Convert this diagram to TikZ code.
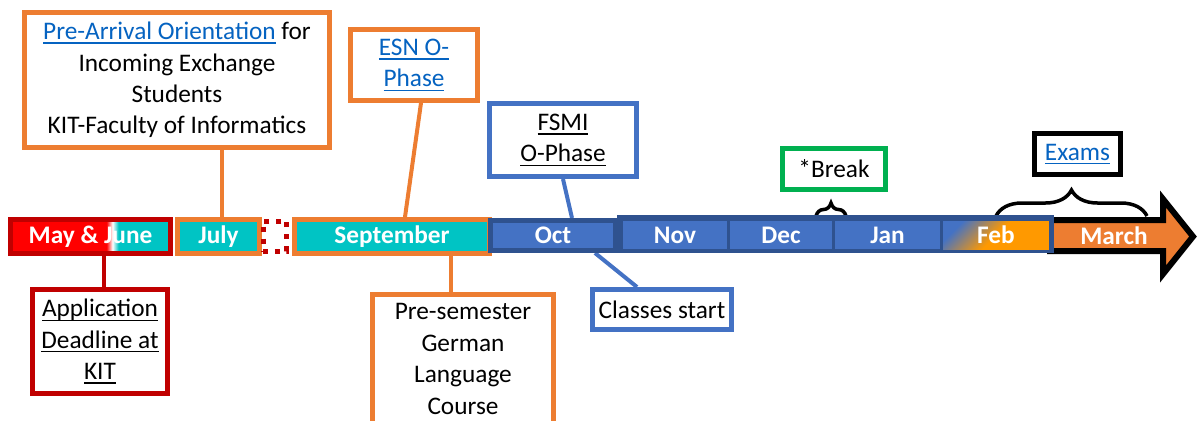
\documentclass[tikz,border=0pt]{standalone}
\usepackage{fontspec}
\setmainfont{Carlito}
\usetikzlibrary{decorations.pathreplacing,backgrounds}

\definecolor{kitred}{HTML}{C00000}
\definecolor{brightred}{HTML}{FF0000}
\definecolor{monthcyan}{HTML}{00C4C4}
\definecolor{orangeline}{HTML}{ED7D31}
\definecolor{darkblue}{HTML}{2F528F}
\definecolor{cellblue}{HTML}{4472C4}
\definecolor{feborange}{HTML}{FF9900}
\definecolor{breakgreen}{HTML}{00B050}
\definecolor{linkblue}{HTML}{0563C1}

\newcommand{\labelsize}{\fontsize{14.4pt}{17.9pt}\selectfont}
\newcommand{\ulined}[1]{\setbox0\hbox{#1}\rlap{\rule[-2.4pt]{\wd0}{0.8pt}}\box0}
\newcommand{\linktext}[1]{\textcolor{linkblue}{\ulined{#1}}}

\begin{document}
\begin{tikzpicture}[x=0.02cm, y=-0.02cm,
	every node/.style={font=\labelsize},
	month/.style={line width=0.1cm, minimum height=0.68cm, inner sep=0pt, text=white, font=\labelsize\bfseries},
	cell/.style={fill=cellblue, minimum height=0.56cm, inner sep=0pt, text=white, font=\labelsize\bfseries},
	callout/.style={draw, fill=white, line width=0.1cm, align=center, inner sep=0pt},
	link/.style={line width=0.08cm},
	curly/.style={decorate, decoration={brace, amplitude=#1}, line width=0.07cm}]
	\useasboundingbox (0,0) rectangle (1198,420);

	\filldraw[fill=orangeline, draw=black, line width=0.12cm, line join=miter] (1050,220) -- (1163,220) -- (1163,199) -- (1193,236.5) -- (1163,274) -- (1163,251) -- (1050,251) -- cycle;
	\node[text=white, font=\labelsize\bfseries] (march) at (1114,236) {March};

	\node[month, draw=kitred, fill=monthcyan, minimum width=3.2cm,
		path picture={
			\fill[brightred] (path picture bounding box.south west) rectangle ([xshift=1.93cm]path picture bounding box.north west);
			\shade[left color=brightred, right color=monthcyan, middle color=white] ([xshift=1.92cm]path picture bounding box.south west) rectangle ([xshift=2.16cm]path picture bounding box.north west);
		}] (mayjune) at (90.5,236.5) {May \& June};
	\node[month, draw=orangeline, fill=monthcyan, minimum width=1.64cm] (july) at (218.5,236.5) {July};
	\node[draw=kitred, line width=0.1cm, dash pattern=on 2.8pt off 4pt, minimum width=0.48cm, minimum height=0.6cm, inner sep=0pt] (gap) at (275,236) {};
	\node[month, draw=orangeline, fill=monthcyan, minimum width=3.9cm] (sept) at (392,236.5) {September};
	\node[month, draw=darkblue, fill=cellblue, minimum width=2.5cm, minimum height=0.6cm] (oct) at (553,235.5) {Oct};

	\node[fill=darkblue, minimum width=8.74cm, minimum height=0.76cm, inner sep=0pt] (winter) at (835.5,234) {};
	\node[cell, minimum width=2.08cm] (nov) at (675,235) {Nov};
	\node[cell, minimum width=2.04cm] (dec) at (781,235) {Dec};
	\node[cell, minimum width=2.1cm] (jan) at (887.5,235) {Jan};
	\node[cell, minimum width=2.12cm, top color=cellblue, bottom color=feborange, middle color=feborange, shading angle=45] (feb) at (996,235) {Feb};

	\node[callout, draw=orangeline, minimum width=6.1cm, minimum height=2.7cm] (prearr) at (177,80)
		{\linktext{Pre-Arrival Orientation} for\\Incoming Exchange\\Students\\KIT-Faculty of Informatics};
	\node[callout, draw=orangeline, minimum width=2.54cm, minimum height=1.42cm] (esn) at (414,65) {\linktext{ESN O-}\\\linktext{Phase}};
	\node[callout, draw=cellblue, minimum width=2.94cm, minimum height=1.46cm] (fsmi) at (563,140) {\ulined{FSMI}\\\ulined{O-Phase}};
	\node[callout, draw=breakgreen, minimum width=2.06cm, minimum height=0.82cm] (brk) at (834,169) {*Break};
	\node[callout, draw=black, line width=0.11cm, minimum width=1.72cm, minimum height=0.82cm] (exams) at (1077.5,154) {\linktext{Exams}};
	\node[callout, draw=kitred, line width=0.11cm, minimum width=2.7cm, minimum height=2.08cm] (deadline) at (100,341.5)
		{\ulined{Application}\\\ulined{Deadline at}\\\ulined{KIT}};
	\node[callout, draw=orangeline, minimum width=3.62cm, inner ysep=0.19cm, anchor=north] (presem) at (463,291.5)
		{Pre-semester\\German\\Language\\Course};
	\node[callout, draw=cellblue, minimum width=2.78cm, minimum height=0.8cm] (classes) at (662,309.5) {Classes start};

	\coordinate (brkleft) at (816,216);
	\coordinate (brkright) at (846,216);
	\coordinate (examsleft) at (996,216);
	\coordinate (examsright) at (1147,216);

	\begin{scope}[on background layer]
		\draw[curly=0.26cm] (brkleft) to (brkright);
		\draw[curly=0.52cm] (examsleft) to (examsright);
		\draw[link, orangeline] ([xshift=0.07cm]july.north |- prearr.south) to ([xshift=0.07cm]july.north);
		\draw[link, orangeline] ([xshift=0.14cm]esn.south) to ([xshift=0.26cm]sept.north);
		\draw[link, cellblue] (fsmi.south) to ([xshift=0.38cm]oct.north);
		\draw[link, cellblue] ([xshift=0.84cm]oct.south) to ([xshift=-0.5cm]classes.north);
		\draw[link, kitred] ([xshift=0.08cm]deadline.north) to ([xshift=0.08cm]deadline.north |- mayjune.south);
		\draw[link, orangeline] ([xshift=-0.24cm]presem.north) to ([xshift=-0.24cm]presem.north |- sept.south);
	\end{scope}
\end{tikzpicture}
\end{document}
